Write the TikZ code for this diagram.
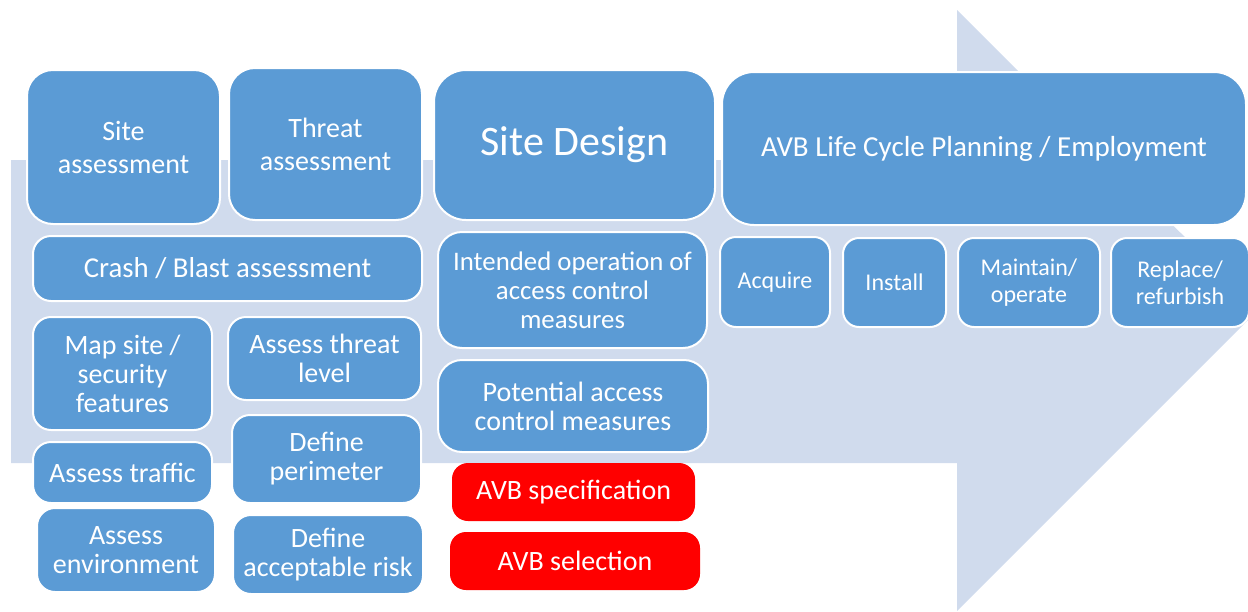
\documentclass[tikz,border=0pt]{standalone}
\usepackage{fontspec}
\setmainfont{Carlito}
\definecolor{boxblue}{RGB}{91,155,213}
\definecolor{arrowbg}{RGB}{208,219,237}
\definecolor{avbred}{RGB}{255,0,0}

\begin{document}
\begin{tikzpicture}[x=0.5pt,y=-0.5pt,
  box/.style={draw=white, line width=1pt, fill=boxblue, text=white, rounded corners=9pt, align=center, inner sep=0pt, font=\fontsize{14}{14.5}\selectfont},
  bigbox/.style={box, rounded corners=13pt, font=\fontsize{14}{16.5}\selectfont},
  stepbox/.style={box, rounded corners=8pt, font=\fontsize{12}{13.5}\selectfont},
  redbox/.style={box, draw=none, fill=avbred, rounded corners=8pt}]
\useasboundingbox (0,0) rectangle (1248,611);
\clip (0,0) rectangle (1248,611);

\fill [arrowbg] (11,160) -- (957,160) -- (957,10) -- (1258,310) -- (957,611) -- (957,463) -- (11,463) -- cycle;

\node [bigbox, minimum width=96.5pt, minimum height=77pt] (site) at (123.5,147) {Site\\assessment};
\node [bigbox, minimum width=96.5pt, minimum height=76pt] (threat) at (325.5,144) {Threat\\assessment};
\node [bigbox, minimum width=140.5pt, minimum height=75pt, rounded corners=16pt, font=\fontsize{21}{25}\selectfont] (design) at (574.5,145) {Site Design};
\node [bigbox, minimum width=262pt, minimum height=76.5pt, rounded corners=16pt, font=\fontsize{14.5}{16.5}\selectfont] (life) at (984,148.5) {AVB Life Cycle Planning / Employment};

\node [box, minimum width=194.5pt, minimum height=32.5pt, font=\fontsize{14.4}{15}\selectfont] (crash) at (227.5,268.5) {Crash / Blast assessment};
\node [box, minimum width=89.5pt, minimum height=56.5pt] (mapsite) at (122.5,373.5) {Map site /\\security\\features};
\node [box, minimum width=96.5pt, minimum height=41.5pt] (threatlvl) at (324.5,358.5) {Assess threat\\level};
\node [box, minimum width=89.5pt, minimum height=30.5pt] (traffic) at (122.5,472.5) {Assess traffic};
\node [box, minimum width=94.5pt, minimum height=44pt] (perimeter) at (326.5,459) {Define\\perimeter};
\node [box, minimum width=89pt, minimum height=42pt] (environment) at (126,550) {Assess\\environment};
\node [box, minimum width=95pt, minimum height=39.5pt] (risk) at (328,554.5) {Define\\acceptable risk};

\node [box, minimum width=134.5pt, minimum height=58pt, rounded corners=12pt, font=\fontsize{13.4}{14.5}\selectfont] (intended) at (572.5,290) {Intended operation of\\access control\\measures};
\node [box, minimum width=135pt, minimum height=46pt, rounded corners=12pt] (potential) at (573,406) {Potential access\\control measures};
\node [redbox, minimum width=121.5pt, minimum height=29pt] (avbspec) at (573.5,492) {AVB specification};
\node [redbox, minimum width=125pt, minimum height=29pt] (avbsel) at (575,561) {AVB selection};

\node [stepbox, minimum width=55pt, minimum height=45pt] (acquire) at (775,282) {Acquire};
\node [stepbox, minimum width=51.5pt, minimum height=44.5pt] (install) at (894.5,282.5) {Install};
\node [stepbox, minimum width=71pt, minimum height=44.5pt] (maintain) at (1029,282.5) {Maintain/\\operate};
\node [stepbox, minimum width=69pt, minimum height=44.5pt] (replace) at (1180,282.5) {Replace/\\refurbish};

\end{tikzpicture}
\end{document}
